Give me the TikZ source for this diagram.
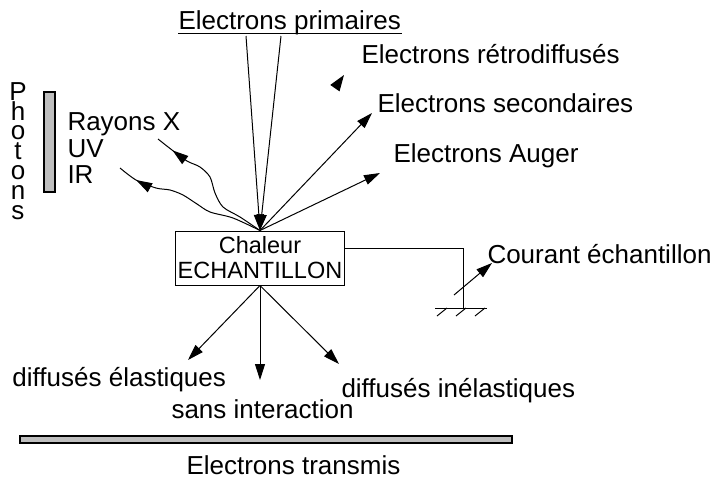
\documentclass[tikz,border=0pt]{standalone}
\usepackage{fontspec}
\setmainfont{Liberation Sans}
\usetikzlibrary{
  arrows.meta,
  decorations.markings
}
\definecolor{plategray}{RGB}{190,190,190}

\begin{document}
\begin{tikzpicture}[x=1pt, y=-1pt, line width=1pt,
  >={Triangle[length=16pt, width=10pt]},
  lbl/.style={inner sep=0pt, anchor=base west, font=\fontsize{26}{30}\selectfont},
  midarrow/.style={postaction={decorate},
    decoration={markings, mark=at position #1 with {\arrow{>}}}},
  plate/.style={draw, line width=1.4pt, fill=plategray}]
  \useasboundingbox (0,0) rectangle (716,488);

  % Sample
  \node[draw, minimum width=169pt, minimum height=54pt, inner sep=0pt,
        align=center, font=\fontsize{23.5}{25}\selectfont]
    (box) at (260,258) {Chaleur\\ECHANTILLON};
  \coordinate (P) at (box.north);
  \coordinate (Q) at (box.south);

  % Primary beam
  \node[lbl] (primaires) at (178,29) {Electrons primaires};
  \draw ([yshift=-4pt]primaires.base west) -- ([yshift=-4pt]primaires.base east);
  \coordinate (beamL) at (246,36);
  \coordinate (beamR) at (281,36);
  \draw[->] (beamL) -- (P);
  \draw[->] (beamR) -- (P);

  % Emitted electrons
  \node[lbl] (retro) at (361,63) {Electrons rétrodiffusés};
  \node[lbl] (second) at (377,112) {Electrons secondaires};
  \node[lbl] (auger) at (393,162) {Electrons Auger};
  \coordinate (retroA) at (335,88);
  \coordinate (retroB) at (344,75);
  \draw[-{Triangle[length=16pt, width=11pt]}] (retroA) -- (retroB);
  \coordinate (secTip) at (372,113);
  \coordinate (augTip) at (380,173);
  \draw[->] (P) -- (secTip);
  \draw[->] (P) -- (augTip);

  % Photons
  \node[inner sep=0pt, anchor=north, align=center,
        font=\fontsize{26}{19.8}\selectfont]
    (photons) at (18,82) {P\\h\\o\\t\\o\\n\\s};
  \draw[plate] (44,92) rectangle (55,192);
  \node[lbl] (rayx) at (67,130) {Rayons X};
  \node[lbl] (uv) at (67,157) {UV};
  \node[lbl] (ir) at (67,183) {IR};
  \draw[midarrow=0.87] plot[smooth] coordinates
    {(P) (240,217) (223,207) (215,193) (210,177) (200,167) (187,161) (172,150) (158,139)};
  \draw[midarrow=0.87] plot[smooth] coordinates
    {(P) (233,218) (210,212) (197,204) (183,195) (170,190) (156,188) (136,180) (120,168)};

  % Sample current
  \coordinate (wire) at ([yshift=10pt]box.east);
  \coordinate (gnd) at (463,308);
  \draw (wire) -| (gnd);
  \draw ([xshift=-28pt]gnd) -- ([xshift=24pt]gnd);
  \foreach \dx in {-16,3,22}{
    \draw ([xshift=\dx pt]gnd) -- ++(-10,8);
  }
  \coordinate (ampA) at (454,295);
  \coordinate (ampB) at (492,263);
  \draw[->] (ampA) -- (ampB);
  \node[lbl] (courant) at (487,263) {Courant échantillon};

  % Transmitted electrons
  \coordinate (elasTip) at (188,360);
  \coordinate (sansTip) at (260,380);
  \coordinate (inelTip) at (339,364);
  \draw[->] (Q) -- (elasTip);
  \draw[->] (Q) -- (sansTip);
  \draw[->] (Q) -- (inelTip);
  \node[lbl] (elas) at (12,386) {diffusés élastiques};
  \node[lbl] (sans) at (171,418) {sans interaction};
  \node[lbl] (inel) at (341,397) {diffusés inélastiques};
  \draw[plate] (20,436) rectangle (512,443);
  \node[lbl] (transmis) at (186,474) {Electrons transmis};
\end{tikzpicture}
\end{document}
